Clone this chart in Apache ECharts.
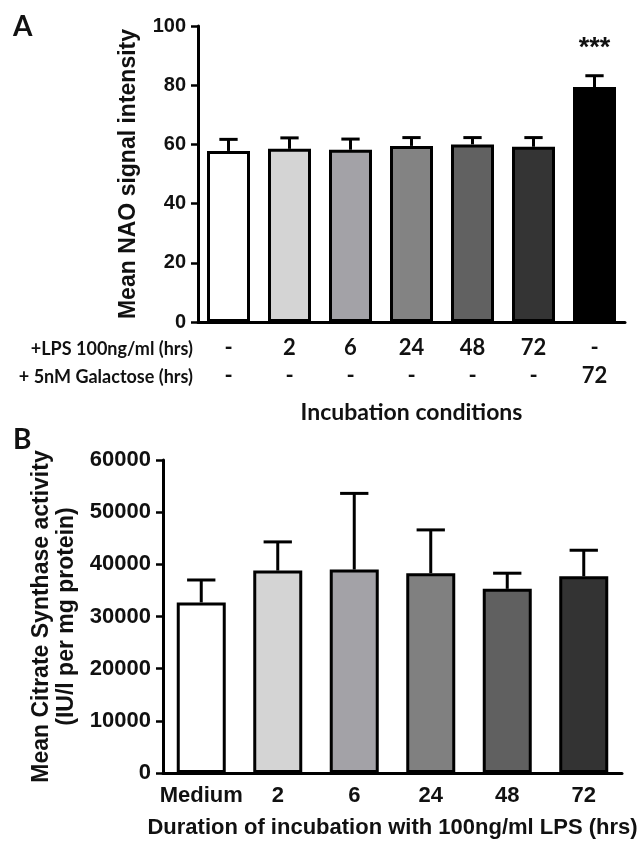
<!DOCTYPE html>
<html>
<head>
<meta charset="utf-8">
<title>NAO signal and citrate synthase activity</title>
<script src="https://cdn.jsdelivr.net/npm/echarts@6/dist/echarts.min.js"></script>
<style>
  html, body { margin: 0; padding: 0; background: #fff; }
  #chart { width: 643px; height: 844px; }
</style>
</head>
<body>
<div id="chart"></div>
<script>
// Panel A: NAO staining per incubation condition
const lpsHours = ['-', '2', '6', '24', '48', '72', '-'];
const galactoseHours = ['-', '-', '-', '-', '-', '-', '72'];
const naoMean = [57.8, 58.5, 58.2, 59.5, 60.0, 59.2, 79.4];
const naoSem = [3.9, 3.7, 3.6, 2.8, 2.3, 3.1, 3.8];
const naoSignificance = ['', '', '', '', '', '', '***'];
const naoTicks = [0, 20, 40, 60, 80, 100];

// Panel B: citrate synthase activity per LPS exposure time
const lpsDuration = ['Medium', '2', '6', '24', '48', '72'];
const csMean = [32700, 38800, 39000, 38300, 35300, 37700];
const csSem = [4300, 5500, 14600, 8300, 3000, 5000];
const csTicks = [0, 10000, 20000, 30000, 40000, 50000, 60000];

// Fill shades, light to dark
const shadesA = ['#ffffff', '#d4d4d4', '#a3a2a7', '#838383', '#616161', '#343434', '#000000'];
const shadesB = ['#ffffff', '#d4d4d4', '#a3a2a7', '#808080', '#606060', '#333333'];

const ARIAL = '"Liberation Sans", Arial, sans-serif';
const CALIBRI = 'Lato, "Open Sans", sans-serif';
const INK = '#111';

const chart = echarts.init(document.getElementById('chart'), null, { renderer: 'canvas' });

function barData(values, shades) {
  return values.map((v, i) => ({
    value: v,
    itemStyle: { color: shades[i], borderColor: '#000', borderWidth: 3 }
  }));
}

// Upward-only error bars with a cap, plus an optional significance mark
function errorBars(capRatio, marks) {
  return function (params, api) {
    const idx = api.value(0);
    const base = api.coord([idx, api.value(1)]);
    const top = api.coord([idx, api.value(2)]);
    const cap = api.size([1, 0])[0] * capRatio;
    const children = [
      { type: 'line', shape: { x1: base[0], y1: base[1], x2: base[0], y2: top[1] },
        style: { stroke: '#000', lineWidth: 3 } },
      { type: 'line', shape: { x1: base[0] - cap / 2, y1: top[1], x2: base[0] + cap / 2, y2: top[1] },
        style: { stroke: '#000', lineWidth: 3 } }
    ];
    const mark = marks ? marks[params.dataIndex] : '';
    if (mark) {
      children.push({
        type: 'text',
        style: { text: mark, x: base[0], y: top[1] - 27, align: 'center', verticalAlign: 'middle',
                 font: 'bold 27px ' + ARIAL, fill: INK }
      });
    }
    return { type: 'group', children };
  };
}

function valueAxis(grid, ticks, name, nameGap, fontSize, nameSize, nameLineHeight) {
  return {
    type: 'value', gridIndex: grid,
    min: ticks[0], max: ticks[ticks.length - 1], interval: ticks[1] - ticks[0],
    name, nameLocation: 'middle', nameGap, nameRotate: 90,
    nameTextStyle: { fontFamily: ARIAL, fontWeight: 'bold', fontSize: nameSize, color: INK,
                     lineHeight: nameLineHeight, align: 'center' },
    axisLine: { show: true, lineStyle: { color: '#000', width: 3 } },
    axisTick: { show: true, length: 7, lineStyle: { color: '#000', width: 2.5 } },
    axisLabel: { fontFamily: ARIAL, fontWeight: 'bold', fontSize, color: INK, margin: 12,
                 formatter: (v) => String(v) },
    splitLine: { show: false }
  };
}

const option = {
  animation: false,
  backgroundColor: '#fff',
  grid: [
    { left: 198, top: 26, width: 427, height: 296 },
    { left: 163, top: 460, width: 459, height: 313 }
  ],
  xAxis: [
    {
      type: 'category', gridIndex: 0,
      data: lpsHours.map((v, i) => v + '\n' + galactoseHours[i]),
      name: 'Incubation conditions', nameLocation: 'middle', nameGap: 79,
      nameTextStyle: { fontFamily: CALIBRI, fontWeight: 'bold', fontSize: 23, color: INK },
      axisLine: { lineStyle: { color: '#000', width: 3 } },
      axisTick: { alignWithLabel: true, length: 7, lineStyle: { color: '#000', width: 2.5 } },
      axisLabel: { fontFamily: CALIBRI, fontWeight: 'bold', fontSize: 22, color: INK,
                   lineHeight: 28, margin: 12, interval: 0 }
    },
    {
      type: 'category', gridIndex: 1,
      data: lpsDuration,
      name: 'Duration of incubation with 100ng/ml LPS (hrs)', nameLocation: 'middle', nameGap: 44,
      nameTextStyle: { fontFamily: ARIAL, fontWeight: 'bold', fontSize: 22, color: INK },
      axisLine: { lineStyle: { color: '#000', width: 3 } },
      axisTick: { alignWithLabel: true, length: 7, lineStyle: { color: '#000', width: 2.5 } },
      axisLabel: { fontFamily: ARIAL, fontWeight: 'bold', fontSize: 22, color: INK, margin: 12, interval: 0 }
    }
  ],
  yAxis: [
    valueAxis(0, naoTicks, 'Mean NAO signal intensity', 56, 20, 23, 26),
    valueAxis(1, csTicks, 'Mean Citrate Synthase activity\n(IU/l per mg protein)', 67, 22, 23, 25)
  ],
  series: [
    { type: 'bar', xAxisIndex: 0, yAxisIndex: 0, barWidth: 43, data: barData(naoMean, shadesA), z: 2 },
    { type: 'custom', xAxisIndex: 0, yAxisIndex: 0, z: 3,
      renderItem: errorBars(0.3, naoSignificance),
      encode: { x: 0, y: [1, 2] },
      data: naoMean.map((m, i) => [i, m, m + naoSem[i]]) },
    { type: 'bar', xAxisIndex: 1, yAxisIndex: 1, barWidth: 49, data: barData(csMean, shadesB), z: 2 },
    { type: 'custom', xAxisIndex: 1, yAxisIndex: 1, z: 3,
      renderItem: errorBars(0.37, null),
      encode: { x: 0, y: [1, 2] },
      data: csMean.map((m, i) => [i, m, m + csSem[i]]) }
  ],
  graphic: [
    { type: 'text', style: { text: 'A', x: 13, y: 27, verticalAlign: 'middle', font: 'bold 28px ' + CALIBRI, fill: INK } },
    { type: 'text', style: { text: 'B', x: 13, y: 440, verticalAlign: 'middle', font: 'bold 28px ' + CALIBRI, fill: INK } },
    { type: 'text', style: { text: '+LPS 100ng/ml (hrs)', x: 193, y: 349, align: 'right', verticalAlign: 'middle',
                             font: 'bold 18px ' + CALIBRI, fill: INK } },
    { type: 'text', style: { text: '+ 5nM Galactose (hrs)', x: 193, y: 377, align: 'right', verticalAlign: 'middle',
                             font: 'bold 18px ' + CALIBRI, fill: INK } }
  ]
};

chart.setOption(option);
</script>
</body>
</html>
